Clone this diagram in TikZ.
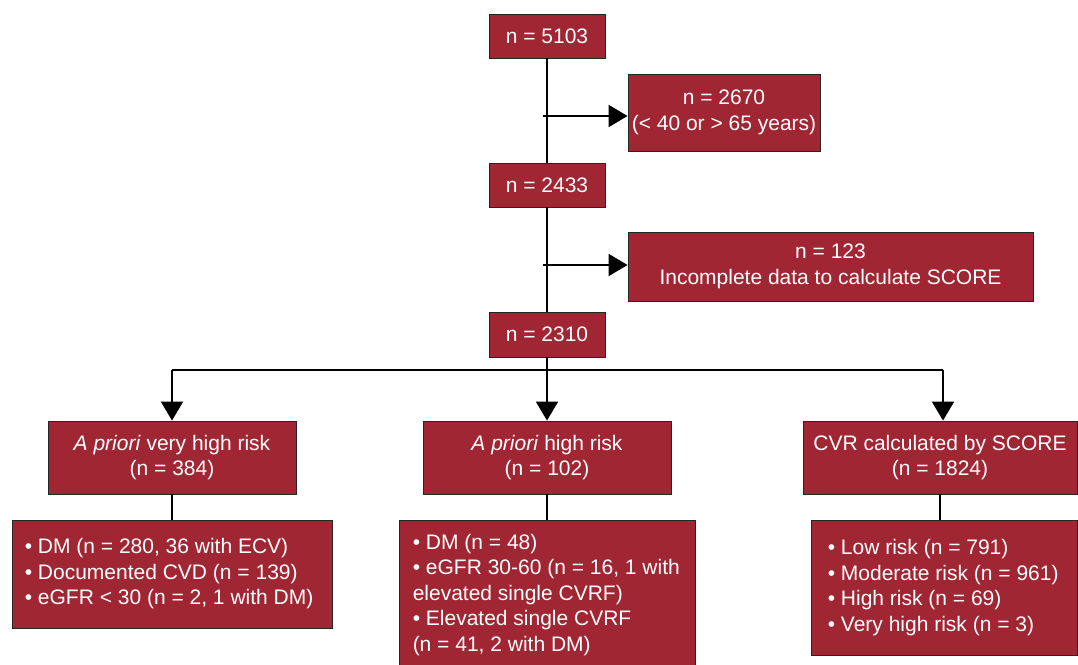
\documentclass[tikz,border=0pt]{standalone}
\usepackage{fontspec}
\setmainfont{Liberation Sans}
\usetikzlibrary{arrows.meta}
\definecolor{boxred}{RGB}{161,38,51}
\begin{document}
\begin{tikzpicture}[x=1pt,y=-1pt,
  box/.style={draw=black!85, line width=0.9pt, fill=boxred, text=white,
    font=\fontsize{21}{25.5}\selectfont, inner sep=0pt, align=center},
  listtext/.style={text=white, font=\fontsize{21}{25.5}\selectfont, inner sep=0pt, align=left},
  conn/.style={line width=2pt, black},
  arr/.style={conn, -{Triangle[width=22pt,length=19pt]}}]
\useasboundingbox (0,0) rectangle (1078,664);
% top column
\node[box, minimum width=116pt, minimum height=44pt] (b5103) at (547,36) {n = 5103};
\node[box, minimum width=192pt, minimum height=77pt] (b2670) at (724,112.5) {n = 2670\\(< 40 or > 65 years)};
\node[box, minimum width=116pt, minimum height=44pt] (b2433) at (547,185) {n = 2433};
\node[box, minimum width=405pt, minimum height=69pt] (b123) at (830.5,266.5) {n = 123\\Incomplete data to calculate SCORE};
\node[box, minimum width=116pt, minimum height=45pt] (b2310) at (547,334.5) {n = 2310};
% middle row
\node[box, minimum width=248pt, minimum height=73pt] (vh) at (172,457.5) {\textit{A priori} very high risk\\(n = 384)};
\node[box, minimum width=248pt, minimum height=73pt] (hr) at (547,457.5) {\textit{A priori} high risk\\(n = 102)};
\node[box, minimum width=274pt, minimum height=73pt] (cvr) at (940,457.5) {CVR calculated by SCORE\\(n = 1824)};
% lists
\node[box, minimum width=320pt, minimum height=108pt] (l1) at (172,574) {};
\node[listtext, anchor=west] (l1t) at ([xshift=13pt]l1.west) {• DM (n = 280, 36 with ECV)\\• Documented CVD (n = 139)\\• eGFR < 30 (n = 2, 1 with DM)};
\node[box, minimum width=296pt, minimum height=150pt] (l2) at (547,595) {};
\node[listtext, anchor=west] (l2t) at ([xshift=14pt]l2.west) {• DM (n = 48)\\• eGFR 30-60 (n = 16, 1 with\\elevated single CVRF)\\• Elevated single CVRF\\(n = 41, 2 with DM)};
\node[box, minimum width=266pt, minimum height=135pt] (l3) at (944,587.5) {};
\node[listtext, anchor=west] (l3t) at ([xshift=17pt]l3.west) {• Low risk (n = 791)\\• Moderate risk (n = 961)\\• High risk (n = 69)\\• Very high risk (n = 3)};
% connectors
\coordinate (j1) at (543,116);
\coordinate (j2) at (543,265);
\coordinate (hl) at (172,370);
\coordinate (hm) at (547,370);
\coordinate (hrr) at (943,370);
\draw[conn] (b5103.south) -- (b2433.north);
\draw[conn] (b2433.south) -- (b2310.north);
\draw[conn] (b2310.south) -- (hm);
\draw[arr] (j1) -- (j1 -| b2670.west);
\draw[arr] (j2) -- (j2 -| b123.west);
\draw[conn] (hl) -- (hrr);
\draw[arr] (hl) -- (vh.north);
\draw[arr] (hm) -- (hr.north);
\draw[arr] (hrr) -- (hrr |- cvr.north);
\draw[conn, line width=1.6pt] (vh.south) -- (vh.south |- l1.north);
\draw[conn, line width=1.6pt] (hr.south) -- (l2.north);
\draw[conn, line width=1.6pt] (cvr.south) -- (cvr.south |- l3.north);
\end{tikzpicture}
\end{document}
